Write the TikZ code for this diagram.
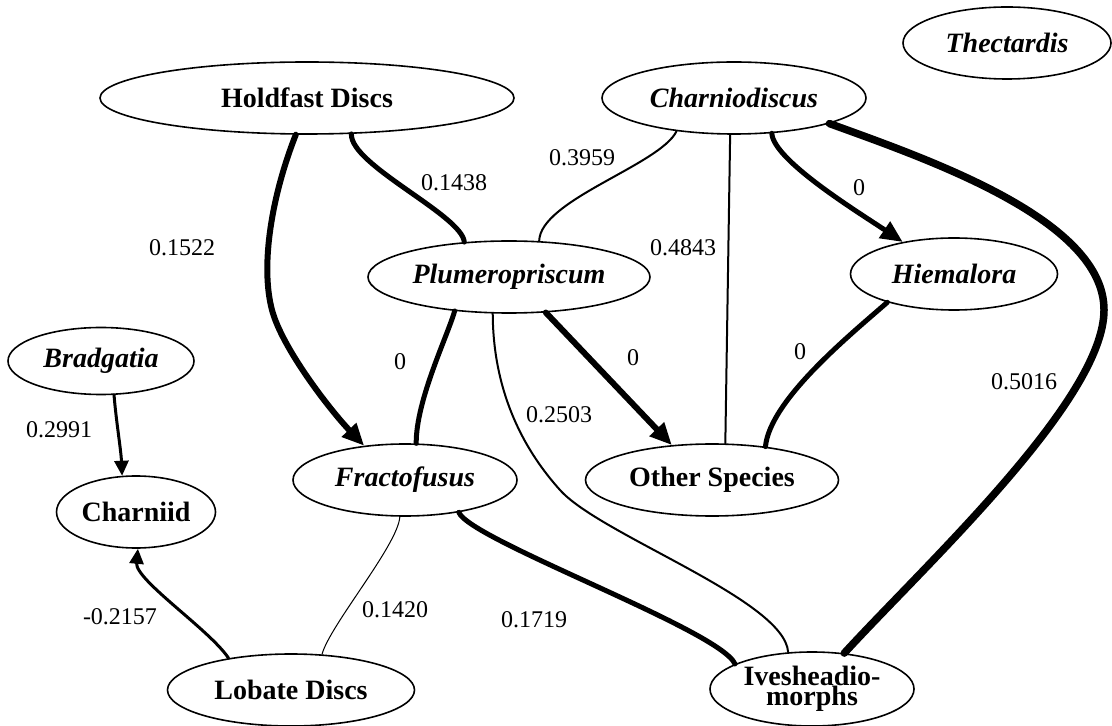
\documentclass[tikz,border=0pt]{standalone}
\usepackage{fontspec}
\setmainfont{Liberation Serif}
\usetikzlibrary{arrows.meta,shapes.geometric}

\begin{document}
\begin{tikzpicture}[x=0.5pt,y=-0.5pt,line cap=round,line join=round,
  taxon/.style={ellipse,draw,line width=0.8pt,inner sep=0pt,minimum height=36pt,
    font=\fontsize{14}{10}\selectfont\bfseries},
  wt/.style={inner sep=1pt,font=\fontsize{12}{12}\selectfont},
  link/.style={line width=#1},
  arr/.style={-{Triangle[length=11pt,width=9.5pt]}},
  arrs/.style={-{Triangle[length=7.5pt,width=7pt]}}]
  \useasboundingbox (0,0) rectangle (1112,726);

  % taxa
  \node[taxon,minimum width=207pt] (hold) at (307,98) {Holdfast Discs};
  \node[taxon,minimum width=132pt] (charnio) at (734,98) {\itshape Charniodiscus};
  \node[taxon,minimum width=104pt] (thect) at (1007,43) {\itshape Thectardis};
  \node[taxon,minimum width=141pt] (plum) at (509,277) {\itshape Plumeropriscum};
  \node[taxon,minimum width=103.5pt] (hiem) at (954,274) {\itshape Hiemalora};
  \node[taxon,minimum width=93pt,minimum height=33.5pt] (brad) at (101,361) {\itshape Bradgatia};
  \node[taxon,minimum width=79.5pt] (charniid) at (136,512) {Charniid};
  \node[taxon,minimum width=112pt] (fracto) at (405,480) {\itshape Fractofusus};
  \node[taxon,minimum width=126.5pt] (other) at (712,480) {Other Species};
  \node[taxon,minimum width=123.5pt] (lobate) at (291,690) {Lobate Discs};
  \node[taxon,minimum width=102pt,minimum height=37pt,align=center] (ives) at (812,689) {Ivesheadio-\\morphs};

  % links
  \draw[link=3pt,arr] (hold.-107) .. controls (272,195) and (260,265) .. (272,310)
    .. controls (282,348) and (330,410) .. (fracto.140);
  \draw[link=2.5pt] (hold.-39) .. controls (350,165) and (462,215) .. (plum.142);
  \draw[link=1pt] (charnio.-150) .. controls (660,165) and (540,200) .. (plum.50);
  \draw[link=1pt] (charnio.-96) -- (other.70);
  \draw[link=2.5pt,arr] (charnio.-43) .. controls (773,160) and (858,212) .. (hiem.148);
  \draw[link=3.75pt] (charnio.-15) .. controls (930,160) and (1104,220) .. (1104,310)
    .. controls (1104,400) and (925,565) .. (ives.48);
  \draw[link=3pt,arr] (plum.-44) -- (other.139);
  \draw[link=2.5pt] (plum.-148) .. controls (448,335) and (416,400) .. (fracto.73);
  \draw[link=1pt] (plum.-114) .. controls (493,380) and (515,440) .. (560,490)
    .. controls (600,535) and (785,600) .. (ives.123);
  \draw[link=2.5pt] (hiem.-157) .. controls (850,335) and (770,400) .. (other.32);
  \draw[link=2.5pt] (fracto.-31) .. controls (470,540) and (720,630) .. (ives.162);
  \draw[link=0.5pt] (fracto.-98) .. controls (398,545) and (330,625) .. (lobate.49);
  \draw[link=1.5pt,arrs] (lobate.153) .. controls (210,630) and (135,580) .. (charniid.-87);
  \draw[link=1.5pt,arrs] (brad.-69) .. controls (116,420) and (121,450) .. (charniid.111);

  % weights
  \node[wt] (w-hold-fracto) at (182,248) {0.1522};
  \node[wt] (w-hold-plum) at (454,183) {0.1438};
  \node[wt] (w-charnio-plum) at (582,158) {0.3959};
  \node[wt] (w-charnio-other) at (683,248) {0.4843};
  \node[wt] (w-charnio-hiem) at (859,188) {0};
  \node[wt] (w-charnio-ives) at (1024,382) {0.5016};
  \node[wt] (w-plum-fracto) at (400,362) {0};
  \node[wt] (w-plum-other) at (633,358) {0};
  \node[wt] (w-plum-ives) at (559,415) {0.2503};
  \node[wt] (w-hiem-other) at (800,352) {0};
  \node[wt] (w-brad-charniid) at (59,430) {0.2991};
  \node[wt] (w-lobate-charniid) at (120,617) {-0.2157};
  \node[wt] (w-fracto-lobate) at (395,610) {0.1420};
  \node[wt] (w-fracto-ives) at (534,620) {0.1719};
\end{tikzpicture}
\end{document}
